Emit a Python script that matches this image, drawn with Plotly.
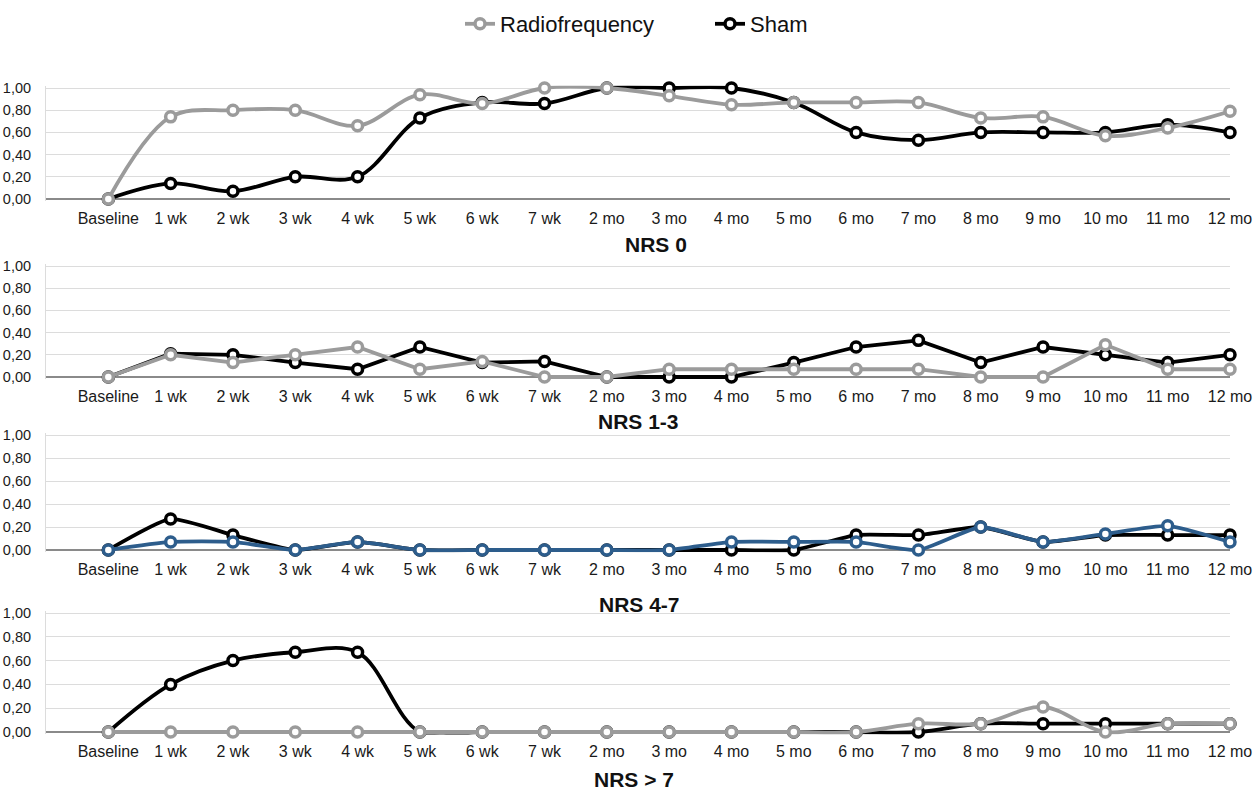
import plotly.graph_objects as go

timepoints = ["Baseline", "1 wk", "2 wk", "3 wk", "4 wk", "5 wk", "6 wk", "7 wk",
              "2 mo", "3 mo", "4 mo", "5 mo", "6 mo", "7 mo", "8 mo", "9 mo",
              "10 mo", "11 mo", "12 mo"]

panel_titles = ["NRS 0", "NRS 1-3", "NRS 4-7", "NRS > 7"]

# NRS 0
rf_nrs0 = [0.00, 0.74, 0.80, 0.80, 0.66, 0.94, 0.86, 1.00, 1.00, 0.93, 0.85, 0.87,
           0.87, 0.87, 0.73, 0.74, 0.57, 0.64, 0.79]
sham_nrs0 = [0.00, 0.14, 0.07, 0.20, 0.20, 0.73, 0.87, 0.86, 1.00, 1.00, 1.00, 0.87,
             0.60, 0.53, 0.60, 0.60, 0.60, 0.67, 0.60]
# NRS 1-3
rf_nrs13 = [0.00, 0.20, 0.13, 0.20, 0.27, 0.07, 0.14, 0.00, 0.00, 0.07, 0.07, 0.07,
            0.07, 0.07, 0.00, 0.00, 0.29, 0.07, 0.07]
sham_nrs13 = [0.00, 0.21, 0.20, 0.13, 0.07, 0.27, 0.13, 0.14, 0.00, 0.00, 0.00, 0.13,
              0.27, 0.33, 0.13, 0.27, 0.20, 0.13, 0.20]
# NRS 4-7
rf_nrs47 = [0.00, 0.07, 0.07, 0.00, 0.07, 0.00, 0.00, 0.00, 0.00, 0.00, 0.07, 0.07,
            0.07, 0.00, 0.20, 0.07, 0.14, 0.21, 0.07]
sham_nrs47 = [0.00, 0.27, 0.13, 0.00, 0.07, 0.00, 0.00, 0.00, 0.00, 0.00, 0.00, 0.00,
              0.13, 0.13, 0.20, 0.07, 0.13, 0.13, 0.13]
# NRS > 7
rf_nrs7 = [0.00, 0.00, 0.00, 0.00, 0.00, 0.00, 0.00, 0.00, 0.00, 0.00, 0.00, 0.00,
           0.00, 0.07, 0.07, 0.21, 0.00, 0.07, 0.07]
sham_nrs7 = [0.00, 0.40, 0.60, 0.67, 0.67, 0.00, 0.00, 0.00, 0.00, 0.00, 0.00, 0.00,
             0.00, 0.00, 0.07, 0.07, 0.07, 0.07, 0.07]

ytick_vals = [0, 0.2, 0.4, 0.6, 0.8, 1.0]

W, H = 1254, 793
PLOT_L, PLOT_R = 46, 1230          # page pixels of plot area
PLOT_T, PLOT_B = 40, 773
L = PLOT_L
R = W - PLOT_R
T = PLOT_T
B = H - PLOT_B
plot_w = PLOT_R - PLOT_L
plot_h = PLOT_B - PLOT_T


def py(page_y):
    return 1 - (page_y - PLOT_T) / plot_h


def px(page_x):
    return (page_x - PLOT_L) / plot_w


GRAY = "#9b9b9b"
BLUE = "#2d5d8c"
BLACK = "#000000"
FONT = "Liberation Sans, Arial, Helvetica, sans-serif"

panels = [
    (rf_nrs0, sham_nrs0, GRAY, 88, 199, 1.0, 245, 656),
    (rf_nrs13, sham_nrs13, GRAY, 266, 377, 0.0, 421, 638),
    (rf_nrs47, sham_nrs47, BLUE, 435, 550, 0.5, 604, 639),
    (rf_nrs7, sham_nrs7, GRAY, 613, 732, 1.0, 779, 634),
]

PAD = 0.02
fig = go.Figure()
annotations = []
layout_axes = {}

for i, (rf, sham, rfcol, top1, bot0, smooth, title_y, title_x) in enumerate(panels):
    n = i + 1
    xa = "x" if n == 1 else f"x{n}"
    ya = "y" if n == 1 else f"y{n}"
    per = bot0 - top1
    lo_px = bot0 + PAD * per
    hi_px = top1 - PAD * per
    dom = [py(lo_px), py(hi_px)]
    shape = "spline" if smooth > 0 else "linear"
    line_kw_s = dict(color=BLACK, width=3.8, shape=shape)
    line_kw_r = dict(color=rfcol, width=3.8, shape=shape)
    if smooth > 0:
        line_kw_s["smoothing"] = smooth
        line_kw_r["smoothing"] = smooth
    fig.add_trace(go.Scatter(
        x=timepoints, y=sham, mode="lines+markers", name="Sham",
        line=line_kw_s,
        marker=dict(symbol="circle", size=10, color="white",
                    line=dict(color=BLACK, width=3.5)),
        xaxis=xa, yaxis=ya, cliponaxis=False,
        showlegend=(n == 1), legendrank=2, legendgroup="sham"))
    fig.add_trace(go.Scatter(
        x=timepoints, y=rf, mode="lines+markers", name="Radiofrequency",
        line=line_kw_r,
        marker=dict(symbol="circle", size=10, color="white",
                    line=dict(color=rfcol, width=3.5)),
        xaxis=xa, yaxis=ya, cliponaxis=False,
        showlegend=(n == 1), legendrank=1, legendgroup="rf"))

    kx = "xaxis" if n == 1 else f"xaxis{n}"
    ky = "yaxis" if n == 1 else f"yaxis{n}"
    layout_axes[kx] = dict(
        domain=[0, 1], anchor=ya, type="category", range=[-1, 18],
        categoryorder="array", categoryarray=timepoints,
        showgrid=False, showline=False, zeroline=False, ticks="",
        tickfont=dict(family=FONT, size=16, color="#1a1a1a"),
        ticklabelstandoff=6, fixedrange=True)
    layout_axes[ky] = dict(
        domain=dom, anchor=xa, range=[-PAD, 1 + PAD],
        tickvals=ytick_vals, tickformat=".2f",
        showgrid=True, gridcolor="#dcdcdc", gridwidth=1,
        zeroline=True, zerolinecolor="#8a8a8a", zerolinewidth=1.5,
        showline=True, linecolor="#dcdcdc", linewidth=1, ticks="",
        tickfont=dict(family=FONT, size=14.5, color="#1a1a1a"),
        ticklabelstandoff=11, fixedrange=True)

    annotations.append(dict(
        text="<b>" + panel_titles[i] + "</b>", xref="paper", yref="paper",
        x=px(title_x), y=py(title_y),
        xanchor="center", yanchor="middle", showarrow=False,
        font=dict(family=FONT, size=21, color="#111111")))

fig.update_layout(
    width=W, height=H,
    margin=dict(l=L, r=R, t=T, b=B, autoexpand=False),
    paper_bgcolor="white", plot_bgcolor="white",
    separators=",.",
    font=dict(family=FONT, color="#1a1a1a"),
    hovermode=False,
    legend=dict(orientation="h", x=px(460), xanchor="left",
                y=py(24), yanchor="middle",
                font=dict(family=FONT, size=22, color="#111111"),
                entrywidth=205, entrywidthmode="pixels",
                bgcolor="rgba(0,0,0,0)"),
    annotations=annotations,
    **layout_axes,
)

fig.write_html(
    "out.html",
    config={"displayModeBar": False, "staticPlot": False},
    post_script="document.body.style.margin='0px';document.body.style.overflow='hidden';",
)
